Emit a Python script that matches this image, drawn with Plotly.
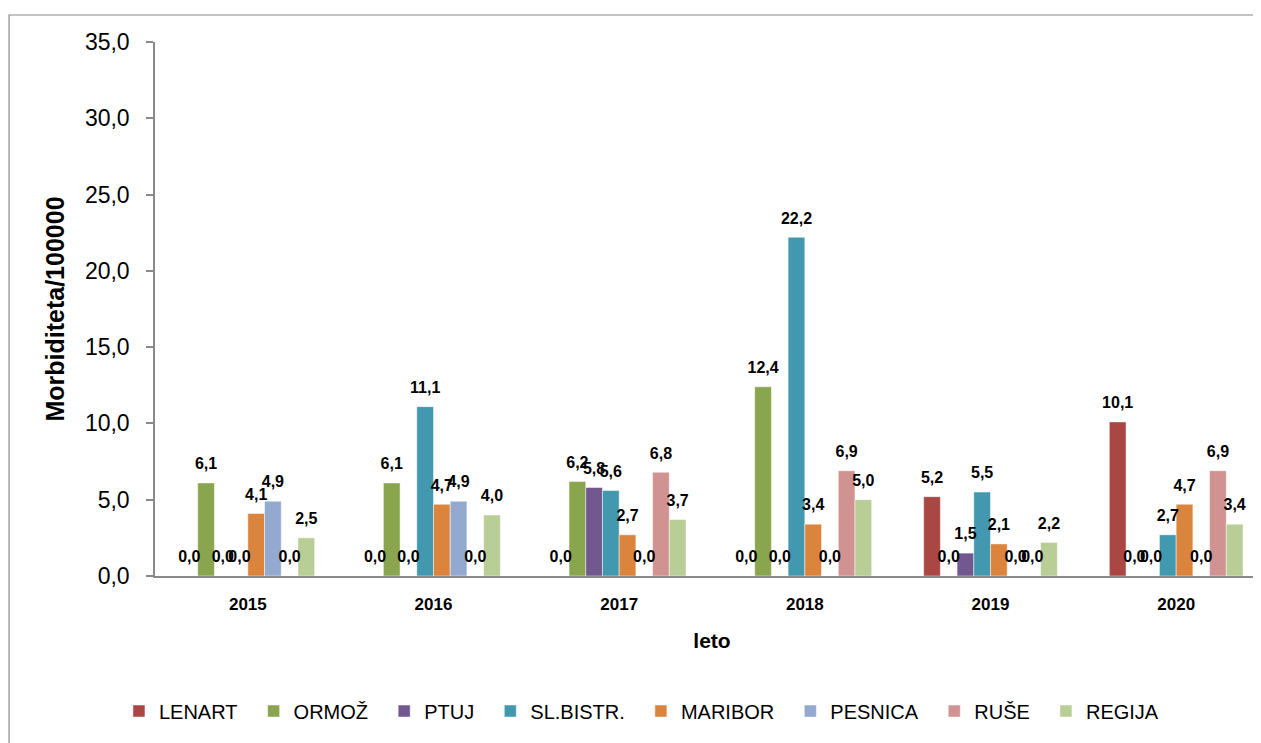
import plotly.graph_objects as go

years = ["2015", "2016", "2017", "2018", "2019", "2020"]
series_names = ["LENART", "ORMOŽ", "PTUJ", "SL.BISTR.", "MARIBOR", "PESNICA", "RUŠE", "REGIJA"]
lenart = [0.0, 0.0, 0.0, 0.0, 5.2, 10.1]
ormoz = [6.1, 6.1, 6.2, 12.4, 0.0, 0.0]
ptuj = [0.0, 0.0, 5.8, 0.0, 1.5, 0.0]
slbistr = [0.0, 11.1, 5.6, 22.2, 5.5, 2.7]
maribor = [4.1, 4.7, 2.7, 3.4, 2.1, 4.7]
pesnica = [4.9, 4.9, 0.0, 0.0, 0.0, 0.0]
ruse = [0.0, 0.0, 6.8, 6.9, 0.0, 6.9]
regija = [2.5, 4.0, 3.7, 5.0, 2.2, 3.4]
colors = ["#AA4643", "#89A54E", "#71588F", "#4198AF", "#DB843D", "#93A9CF", "#D19392", "#B9CD96"]

all_values = [lenart, ormoz, ptuj, slbistr, maribor, pesnica, ruse, regija]
font = "Liberation Sans"

fig = go.Figure()
for name, vals, col in zip(series_names, all_values, colors):
    fig.add_trace(go.Bar(
        x=years, y=vals, name=name + "\u00a0\u00a0",
        marker=dict(color=col, line=dict(color="rgba(255,255,255,0.6)", width=0.8)),
        offsetgroup=name, hovertemplate=name + ": %{y}<extra></extra>",
    ))
for name, vals in zip(series_names, all_values):
    fig.add_trace(go.Scatter(
        x=years, y=vals, mode="markers+text", offsetgroup=name,
        text=[f"{v:.1f}".replace(".", ",") for v in vals],
        textposition="top center",
        textfont=dict(family=font, size=16, color="black", weight="bold"),
        marker=dict(size=14, opacity=0), showlegend=False, hoverinfo="skip", cliponaxis=False,
    ))

fig.update_layout(
    width=1261, height=743,
    paper_bgcolor="white", plot_bgcolor="white",
    barmode="group", bargap=0.28, bargroupgap=0, scattermode="group", scattergap=0.28,
    separators=",.",
    margin=dict(l=147, r=0, t=34, b=175, autoexpand=False),
    font=dict(family=font, color="black"),
    showlegend=True,
    legend=dict(orientation="h", xref="container", yref="container", x=0.5067, y=0.0538,
                xanchor="center", yanchor="middle", font=dict(size=20, family=font),
                itemwidth=30, tracegroupgap=0, traceorder="normal"),
    xaxis=dict(range=[-0.5, 5.5], showline=True, linecolor="#898989", linewidth=1.5,
               ticks="", tickfont=dict(size=17, weight="bold", family=font),
               ticklabelstandoff=12,
               title=dict(text="leto", font=dict(size=21, weight="bold", family=font), standoff=20),
               showgrid=False, zeroline=False),
    yaxis=dict(range=[0, 35], dtick=5, tickformat=".1f", showline=True, linecolor="#898989",
               linewidth=1.5, ticks="outside", ticklen=7, tickcolor="#898989", tickwidth=1.5,
               tickfont=dict(size=23, family=font), ticklabelstandoff=12,
               title=dict(text="Morbiditeta/100000", font=dict(size=25, weight="bold", family=font), standoff=13),
               showgrid=False, zeroline=False),
    shapes=[dict(type="rect", xref="paper", yref="paper", x0=-0.131, x1=1.2, y0=-0.5, y1=1.0506,
                 line=dict(color="#898989", width=1.2), fillcolor="rgba(0,0,0,0)", layer="below")],
)

fig.write_html("out.html")
